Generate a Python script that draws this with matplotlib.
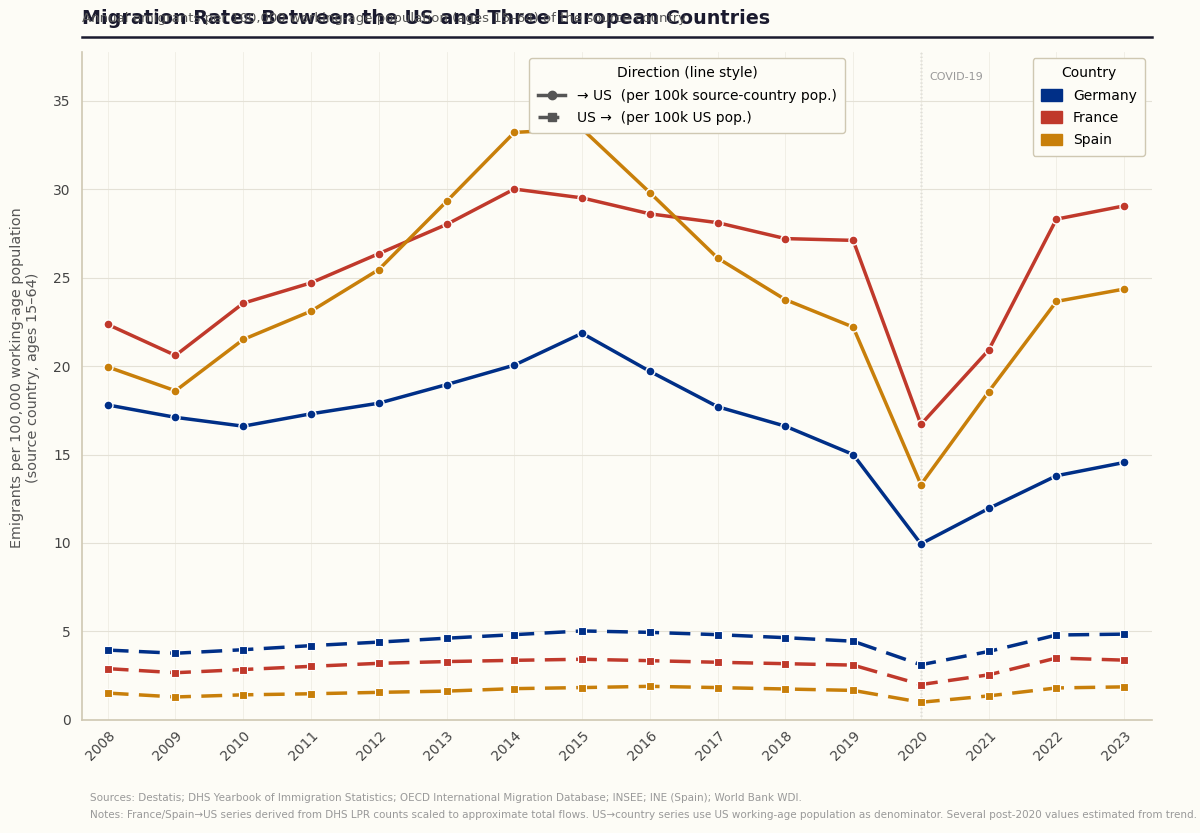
import matplotlib
matplotlib.use("Agg")
import matplotlib.pyplot as plt
from matplotlib.lines import Line2D
from matplotlib.patches import Patch

years = list(range(2008, 2024))
countries = ["Germany", "France", "Spain"]
colors = {"Germany": "#002f87", "France": "#c0392b", "Spain": "#c87f0a"}

# emigrants to the US per 100k source-country working-age pop
to_us = {
    "Germany": [17.8, 17.1, 16.6, 17.3, 17.9, 18.95, 20.05, 21.85, 19.7, 17.7, 16.6, 15.0, 9.95, 11.95, 13.8, 14.55],
    "France":  [22.35, 20.6, 23.55, 24.7, 26.35, 28.0, 30.0, 29.5, 28.6, 28.1, 27.2, 27.1, 16.7, 20.9, 28.3, 29.05],
    "Spain":   [19.95, 18.6, 21.5, 23.1, 25.45, 29.3, 33.2, 33.4, 29.8, 26.1, 23.75, 22.2, 13.3, 18.55, 23.65, 24.35],
}
# US emigrants to country per 100k US working-age pop
from_us = {
    "Germany": [3.95, 3.77, 3.97, 4.2, 4.4, 4.62, 4.82, 5.03, 4.95, 4.82, 4.65, 4.45, 3.12, 3.87, 4.8, 4.85],
    "France":  [2.9, 2.67, 2.85, 3.03, 3.2, 3.3, 3.37, 3.43, 3.35, 3.26, 3.18, 3.1, 2.0, 2.55, 3.5, 3.38],
    "Spain":   [1.52, 1.3, 1.42, 1.48, 1.56, 1.63, 1.77, 1.83, 1.9, 1.83, 1.75, 1.67, 1.0, 1.36, 1.81, 1.87],
}

bg = "#fdfcf6"
edge = "#cfc8b2"

fig = plt.figure(figsize=(12, 8.33), dpi=100, facecolor=bg)
ax = fig.add_axes([0.0683, 0.1357, 0.8917, 0.802], facecolor=bg)

for c in countries:
    ax.plot(years, to_us[c], color=colors[c], lw=2.5, marker="o", ms=6.5,
            mec="white", mew=1.0, zorder=3)
    ax.plot(years, from_us[c], color=colors[c], lw=2.5, ls=(0, (6, 3)),
            marker="s", ms=5.5, mec="white", mew=0.8, zorder=3)

ax.axvline(2020, color="#999999", lw=1.0, ls=":", zorder=1)
ax.text(2020.12, 36.35, "COVID-19", fontsize=8, color="#999999", va="center")

ax.set_xlim(2007.62, 2023.41)
ax.set_ylim(0, 37.75)
ax.set_xticks(years)
ax.set_xticklabels([str(y) for y in years], rotation=45, ha="right",
                   rotation_mode="anchor", fontsize=10, color="#444444")
ax.set_yticks(range(0, 36, 5))
ax.tick_params(axis="y", labelsize=10, labelcolor="#444444", length=0, pad=8)
ax.tick_params(axis="x", length=0, pad=6)
ax.grid(True, axis="y", color="#e4e1d6", lw=0.8, zorder=0)
ax.grid(True, axis="x", color="#efede4", lw=0.6, zorder=0)
for s in ["top", "right"]:
    ax.spines[s].set_visible(False)
for s in ["left", "bottom"]:
    ax.spines[s].set_color(edge)
    ax.spines[s].set_linewidth(1.2)

ax.set_ylabel("Emigrants per 100,000 working-age population\n(source country, ages 15\u201364)",
              fontsize=10.4, color="#555555")
ax.yaxis.set_label_coords(-0.039, 0.512)

dir_handles = [
    Line2D([0], [0], color="#555555", lw=2.5, marker="o", ms=6),
    Line2D([0], [0], color="#555555", lw=2.5, ls=(0, (6, 3)), marker="s", ms=5.5),
]
leg1 = ax.legend(dir_handles, ["\u2192 US  (per 100k source-country pop.)",
                               "US \u2192  (per 100k US pop.)"],
                 title="Direction (line style)", loc="upper center",
                 bbox_to_anchor=(0.5655, 0.991), borderaxespad=0,
                 fontsize=10, title_fontsize=10, labelspacing=0.6,
                 borderpad=0.6, frameon=True, facecolor=bg, edgecolor=edge,
                 framealpha=1, handlelength=2.0)
ax.add_artist(leg1)
ctry_handles = [Patch(color=colors[c]) for c in countries]
ax.legend(ctry_handles, countries, title="Country", loc="upper right",
          bbox_to_anchor=(0.9935, 0.991), borderaxespad=0,
          fontsize=10, title_fontsize=10, labelspacing=0.6, borderpad=0.6,
          frameon=True, facecolor=bg, edgecolor=edge, framealpha=1,
          handlelength=1.5, handleheight=0.9)

fig.text(0.0683, 0.978, "Migration Rates Between the US and Three European Countries",
         fontsize=13.8, fontweight="bold", color="#1a1a2e", va="center")
fig.text(0.0683, 0.978, "Annual emigrants per 100,000 working-age population (ages 15\u201364) of the source country",
         fontsize=9.5, color="#555555", va="center")
fig.add_artist(Line2D([0.0683, 0.96], [0.955, 0.955], color="#1a1a2e", lw=1.8))

fig.text(0.075, 0.038, "Sources: Destatis; DHS Yearbook of Immigration Statistics; OECD International Migration Database; INSEE; INE (Spain); World Bank WDI.",
         fontsize=7.5, color="#999999")
fig.text(0.075, 0.018, "Notes: France/Spain\u2192US series derived from DHS LPR counts scaled to approximate total flows. US\u2192country series use US working-age population as denominator. Several post-2020 values estimated from trend.",
         fontsize=7.5, color="#999999")

fig.savefig("out.png", dpi=100, facecolor=bg)
